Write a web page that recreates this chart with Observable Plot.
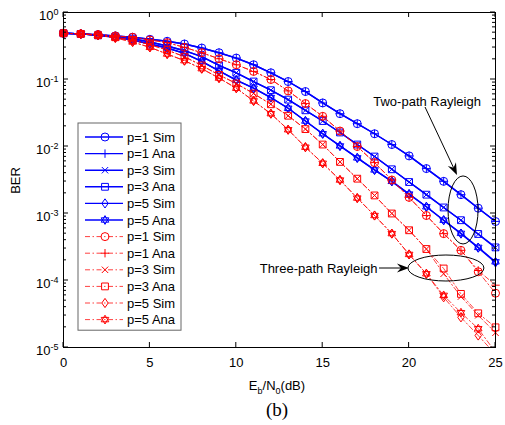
<!DOCTYPE html>
<html><head><meta charset="utf-8">
<script src="https://cdn.jsdelivr.net/npm/d3@7"></script>
<script src="https://cdn.jsdelivr.net/npm/@observablehq/plot@0.6"></script>
<style>
body{margin:0;background:#fff}
svg{font-family:"Liberation Sans",Arial,sans-serif}
</style>
</head><body><div id="chart"></div>
<script>
// ---- data ----
const snr = [0,1,2,3,4,5,6,7,8,9,10,11,12,13,14,15,16,17,18,19,20,21,22,23,24,25];
const xTicks = [0,5,10,15,20,25];
const yTicks = [1,1e-1,1e-2,1e-3,1e-4,1e-5];
const yTickExp = ["0","-1","-2","-3","-4","-5"];
const seriesNames = ["p=1 Sim","p=1 Ana","p=3 Sim","p=3 Ana","p=5 Sim","p=5 Ana"];

// Two-path Rayleigh (blue, solid)
const twoP1Sim = [0.49,0.479,0.468,0.447,0.427,0.398,0.372,0.339,0.295,0.251,0.209,0.166,0.126,0.0933,0.0661,0.0447,0.0309,0.0219,0.0155,0.0107,0.00724,0.00468,0.00302,0.00191,0.0012,0.000759];
const twoP1Ana = [0.49,0.479,0.468,0.447,0.427,0.398,0.372,0.339,0.295,0.251,0.209,0.166,0.126,0.0933,0.0661,0.0447,0.0309,0.0219,0.0155,0.0107,0.00724,0.00468,0.00302,0.00191,0.0012,0.000762];
const twoP3Sim = [0.49,0.479,0.457,0.437,0.407,0.363,0.316,0.269,0.219,0.162,0.126,0.0933,0.0692,0.0501,0.0347,0.024,0.0162,0.0107,0.00708,0.00457,0.00295,0.00191,0.00123,0.000794,0.00049,0.000309];
const twoP3Ana = [0.49,0.479,0.457,0.437,0.407,0.363,0.316,0.269,0.219,0.162,0.126,0.0933,0.0692,0.0501,0.0347,0.024,0.0162,0.0107,0.00708,0.00457,0.00295,0.00191,0.00123,0.000794,0.000495,0.000312];
const twoP5Sim = [0.49,0.479,0.457,0.427,0.389,0.339,0.295,0.245,0.186,0.135,0.0977,0.0741,0.0537,0.0372,0.024,0.0155,0.0102,0.00676,0.00447,0.00302,0.00195,0.00126,0.000794,0.000501,0.000309,0.000186];
const twoP5Ana = [0.49,0.479,0.457,0.427,0.389,0.339,0.295,0.245,0.186,0.135,0.0977,0.0741,0.0537,0.0372,0.024,0.0155,0.0102,0.00676,0.00447,0.00302,0.00195,0.00126,0.000794,0.000505,0.000312,0.00019];

// Three-path Rayleigh (red, dash-dot)
const threeP1Sim = [0.49,0.479,0.468,0.447,0.427,0.389,0.355,0.302,0.251,0.204,0.166,0.132,0.1,0.0676,0.0437,0.0282,0.017,0.01,0.00575,0.00316,0.00174,0.000933,0.000501,0.000282,0.000135,0.0000646];
const threeP1Ana = [0.49,0.479,0.468,0.447,0.427,0.389,0.355,0.302,0.251,0.204,0.166,0.132,0.1,0.0676,0.0437,0.0282,0.017,0.01,0.00575,0.00316,0.00174,0.000933,0.000501,0.000282,0.000141,0.0000851];
const threeP3Sim = [0.49,0.479,0.457,0.427,0.389,0.331,0.275,0.219,0.162,0.117,0.0871,0.0617,0.0427,0.0288,0.0182,0.0107,0.00589,0.00331,0.00186,0.001,0.000562,0.000295,0.000126,0.0000575,0.0000302,0.0000166];
const threeP3Ana = [0.49,0.479,0.457,0.427,0.389,0.331,0.275,0.219,0.162,0.117,0.0871,0.0617,0.0427,0.0288,0.0182,0.0107,0.00589,0.00331,0.00186,0.001,0.000562,0.000295,0.000151,0.0000631,0.0000324,0.00002];
const threeP5Sim = [0.49,0.479,0.457,0.417,0.363,0.302,0.24,0.191,0.145,0.105,0.0741,0.0479,0.0309,0.0178,0.00977,0.00562,0.00316,0.0017,0.000933,0.000501,0.000245,0.000126,0.0000562,0.0000282,0.0000151,0.0000079];
const threeP5Ana = [0.49,0.479,0.457,0.417,0.363,0.302,0.24,0.191,0.145,0.105,0.0741,0.0479,0.0309,0.0178,0.00977,0.00562,0.00316,0.0017,0.000933,0.000501,0.000245,0.000126,0.000060,0.0000331,0.0000191,0.0000085];

(function(){
// ---- MATLAB-like marker symbols ----
const symCircle = {draw(c, size){const r=Math.sqrt(size/Math.PI); c.moveTo(r,0); c.arc(0,0,r,0,2*Math.PI); c.closePath();}};
const symPlus = {draw(c, size){const r=Math.sqrt(size/Math.PI)*1.05; c.moveTo(-r,0); c.lineTo(r,0); c.moveTo(0,-r); c.lineTo(0,r);}};
const symTimes = {draw(c, size){const r=Math.sqrt(size/Math.PI)*0.8; c.moveTo(-r,-r); c.lineTo(r,r); c.moveTo(-r,r); c.lineTo(r,-r);}};
const symSquare = {draw(c, size){const s=Math.sqrt(size/Math.PI)*0.85; c.moveTo(-s,-s); c.lineTo(s,-s); c.lineTo(s,s); c.lineTo(-s,s); c.closePath();}};
const symDiamond = {draw(c, size){const r=Math.sqrt(size/Math.PI); const w=r*0.8, h=r*1.15; c.moveTo(0,-h); c.lineTo(w,0); c.lineTo(0,h); c.lineTo(-w,0); c.closePath();}};
const symHexagram = {draw(c, size){const R=Math.sqrt(size/Math.PI)*1.1;
  for (const off of [-90, 90]) {
    for (let k=0;k<3;k++){const a=(off+k*120)*Math.PI/180; const px=R*Math.cos(a), py=R*Math.sin(a); if(k===0) c.moveTo(px,py); else c.lineTo(px,py);}
    c.closePath();
  }}};
const symbols = [symCircle, symPlus, symTimes, symSquare, symDiamond, symHexagram];

const blueColor = "#0000ff", redColor = "#ff0000";
const redDash = "5,2.5,1.5,2.5";
const groups = [
  {values:[twoP1Sim,twoP1Ana,twoP3Sim,twoP3Ana,twoP5Sim,twoP5Ana], color:blueColor, dash:null, width:1.4, lineOpacity:1},
  {values:[threeP1Sim,threeP1Ana,threeP3Sim,threeP3Ana,threeP5Sim,threeP5Ana], color:redColor, dash:redDash, width:1, lineOpacity:0.75}
];

const yMin = 1e-5, yMax = 1;
const marks = [];
const legendItems = [];
for (const g of groups) {
  g.values.forEach((vals, j) => {
    const rows = snr.map((x, i) => ({x, y: vals[i]}));
    marks.push(Plot.line(rows, {x:"x", y:"y", stroke:g.color, strokeWidth:g.width, strokeOpacity:g.lineOpacity, strokeDasharray:g.dash ?? undefined, clip:true}));
    marks.push(Plot.dot(rows.filter(d => d.y >= yMin && d.y <= yMax), {x:"x", y:"y", symbol:symbols[j], r:4, stroke:g.color, fill:"none", strokeWidth:1}));
    legendItems.push({label:seriesNames[j], color:g.color, dash:g.dash, width:g.width, lineOpacity:g.lineOpacity, symbol:symbols[j]});
  });
}

const plot = Plot.plot({
  width: 505, height: 425,
  marginLeft: 63, marginRight: 10, marginTop: 12, marginBottom: 78,
  style: {fontFamily: '"Liberation Sans", Arial, sans-serif', fontSize: "13px", color: "#000", background: "#fff"},
  x: {domain:[0,25]},
  y: {type:"log", domain:[yMin, yMax]},
  marks: [
    Plot.axisX({ticks: xTicks, tickSize: 0, tickPadding: 10, label: null, tickFormat: d => String(d), fontSize: 13}),
    Plot.axisY({ticks: yTicks, tickSize: 0, tickPadding: 5, label: null, dy: 3, fontSize: 13,
      tickFormat: d => "10^" + yTickExp[yTicks.indexOf(d)]}),
    ...marks,
    Plot.frame({stroke: "#000", strokeWidth: 1})
  ]
});

document.getElementById("chart").appendChild(plot);

const svg = d3.select(plot);
const sx = v => plot.scale("x").apply(v);
const sy = v => plot.scale("y").apply(v);
const pL = sx(0), pR = sx(25), pT = sy(yMax), pB = sy(yMin);

// superscript tick labels
svg.selectAll('g[aria-label="y-axis tick label"] text').each(function(){
  const t = this.textContent; const parts = t.split("^");
  const s = d3.select(this); s.text(null);
  s.append("tspan").text(parts[0]);
  s.append("tspan").attr("dy","-0.5em").attr("font-size","9px").text(parts[1]);
});

// inward ticks on all four sides
const tg = svg.append("g").attr("stroke","#000").attr("stroke-width",1).attr("fill","none");
for (const t of xTicks) {
  const x = sx(t);
  tg.append("line").attr("x1",x).attr("x2",x).attr("y1",pB).attr("y2",pB-5);
  tg.append("line").attr("x1",x).attr("x2",x).attr("y1",pT).attr("y2",pT+5);
}
for (const t of yTicks) {
  const y = sy(t);
  tg.append("line").attr("x1",pL).attr("x2",pL+5).attr("y1",y).attr("y2",y);
  tg.append("line").attr("x1",pR).attr("x2",pR-5).attr("y1",y).attr("y2",y);
  if (t < yMax) for (let m = 2; m <= 9; m++) {
    const ym = sy(t*m);
    tg.append("line").attr("x1",pL).attr("x2",pL+3).attr("y1",ym).attr("y2",ym);
    tg.append("line").attr("x1",pR).attr("x2",pR-3).attr("y1",ym).attr("y2",ym);
  }
}

// axis titles and caption
svg.append("text").attr("transform",`translate(20,${(pT+pB)/2 + 1}) rotate(-90)`)
  .attr("text-anchor","middle").attr("font-size",13).attr("fill","#000").text("BER");
const xl = svg.append("text").attr("x",(pL+pR)/2 - 2).attr("y",390).attr("text-anchor","middle").attr("font-size",13).attr("fill","#000");
xl.append("tspan").text("E");
xl.append("tspan").attr("dy",4).attr("font-size",9).text("b");
xl.append("tspan").attr("dy",-4).text("/N");
xl.append("tspan").attr("dy",4).attr("font-size",9).text("0");
xl.append("tspan").attr("dy",-4).text("(dB)");
svg.append("text").attr("x",(pL+pR)/2 - 2).attr("y",416).attr("text-anchor","middle")
  .attr("font-family",'"Liberation Serif","Times New Roman",serif').attr("font-size",19).attr("fill","#000").text("(b)");

// annotations (data coordinates)
function arrow(x0,y0,x1,y1,L,W,N){
  const dx=x1-x0, dy=y1-y0, len=Math.hypot(dx,dy), ux=dx/len, uy=dy/len, px=-uy, py=ux;
  const bx=x1-ux*L, by=y1-uy*L, nx=x1-ux*(L-N), ny=y1-uy*(L-N);
  svg.append("line").attr("x1",x0).attr("y1",y0).attr("x2",nx).attr("y2",ny).attr("stroke","#000").attr("stroke-width",1);
  svg.append("path").attr("d",`M${x1},${y1}L${bx+px*W},${by+py*W}L${nx},${ny}L${bx-px*W},${by-py*W}Z`).attr("fill","#000");
}
svg.append("text").attr("x",sx(21.07)).attr("y",sy(0.0468)).attr("dy","0.35em").attr("text-anchor","middle").attr("font-size",13).attr("fill","#000").text("Two-path Rayleigh");
arrow(sx(20.95), sy(0.0382), sx(22.8), sy(0.00369), 12, 4.5, 4);
svg.append("ellipse").attr("cx",sx(23.15)).attr("cy",sy(0.00111)).attr("rx",15).attr("ry",34).attr("fill","none").attr("stroke","#000").attr("stroke-width",1);
svg.append("text").attr("x",sx(18.2)).attr("y",sy(0.000151)).attr("dy","0.35em").attr("text-anchor","end").attr("font-size",13).attr("fill","#000").text("Three-path Rayleigh");
arrow(sx(18.29), sy(0.000151), sx(20.02), sy(0.000151), 12, 4.5, 4);
svg.append("ellipse").attr("cx",sx(22.16)).attr("cy",sy(0.000151)).attr("rx",38).attr("ry",13).attr("fill","none").attr("stroke","#000").attr("stroke-width",1);

// legend
const lg = svg.append("g").attr("text-anchor","start");
const lx0 = 78, ly0 = 123, lw = 103, step = 16.6;
lg.append("rect").attr("x",lx0).attr("y",ly0).attr("width",lw).attr("height",step*legendItems.length + 8)
  .attr("fill","#fff").attr("stroke","#666").attr("stroke-width",1);
legendItems.forEach((it, i) => {
  const y = ly0 + 14 + i*step;
  lg.append("line").attr("x1",lx0+7).attr("x2",lx0+45).attr("y1",y).attr("y2",y)
    .attr("stroke",it.color).attr("stroke-width",it.width).attr("stroke-opacity",it.lineOpacity)
    .attr("stroke-dasharray", it.dash ?? null);
  lg.append("path").attr("transform",`translate(${lx0+27},${y})`)
    .attr("d", d3.symbol().type(it.symbol).size(Math.PI*16)())
    .attr("fill","none").attr("stroke",it.color).attr("stroke-width",1);
  lg.append("text").attr("x",lx0+49).attr("y",y).attr("dy","0.35em").attr("text-anchor","start").attr("font-size",13).attr("fill","#000").text(it.label);
});
})();
</script>
</body></html>
